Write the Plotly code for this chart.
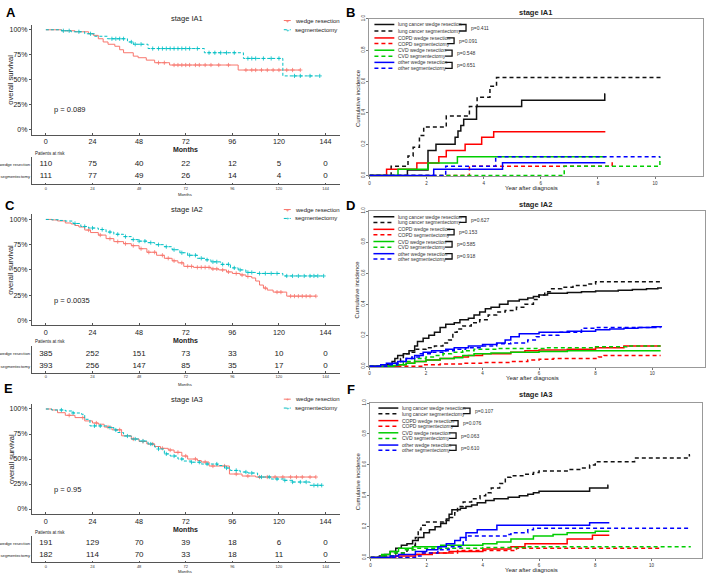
import numpy as np
import plotly.graph_objects as go

W, H = 708, 577

# ---------------- data ----------------
months = [0, 24, 48, 72, 96, 120, 144]
years = [0, 2, 4, 6, 8, 10]
stages = ["stage IA1", "stage IA2", "stage IA3"]
km_pvals = ["p = 0.089", "p = 0.0035", "p = 0.95"]

# patients at risk
risk_a_wedge = [110, 75, 40, 22, 12, 5, 0]
risk_a_seg = [111, 77, 49, 26, 14, 4, 0]
risk_c_wedge = [385, 252, 151, 73, 33, 10, 0]
risk_c_seg = [393, 256, 147, 85, 35, 17, 0]
risk_e_wedge = [191, 129, 70, 39, 18, 6, 0]
risk_e_seg = [182, 114, 70, 33, 18, 11, 0]

# Kaplan-Meier curves (months, survival)
a_wedge_t = [8, 15, 22, 24.5, 27, 29.5, 32, 35.5, 38, 40, 45, 47.5, 51.7, 56, 63.7, 99]
a_wedge_s = [0.99, 0.98, 0.96, 0.944, 0.91, 0.878, 0.855, 0.835, 0.80, 0.77, 0.736, 0.72, 0.696, 0.67, 0.647, 0.597]
a_wedge_end = 131
a_wedge_cens = [58, 61, 66, 68, 70, 72, 74, 77, 79, 82, 85, 89, 94, 103, 106, 108, 111, 114, 117, 120, 124, 127, 131]
a_seg_t = [8, 13, 20, 25, 31.7, 42, 45, 52.6, 81.6, 101.7, 122]
a_seg_s = [0.99, 0.98, 0.96, 0.935, 0.91, 0.878, 0.855, 0.812, 0.77, 0.713, 0.538]
a_seg_end = 141
a_seg_cens = [9, 12, 17, 23, 34, 36, 38, 40, 44, 46, 49, 55, 58, 60, 62, 64, 66, 68, 70, 72, 74, 78, 84,
              87, 90, 93, 97, 104, 106, 108, 112, 116, 120, 128, 131, 136, 141]

c_wedge_t = [3, 6, 10, 13, 15, 17, 20, 23, 27, 31, 35, 40, 44, 48, 52, 57, 61, 65, 68, 71, 76, 85, 89, 93,
             96, 100, 103, 106, 108, 110, 112, 114, 117, 124]
c_wedge_s = [0.995, 0.985, 0.965, 0.955, 0.94, 0.925, 0.895, 0.87, 0.845, 0.81, 0.78, 0.76, 0.74, 0.71, 0.675,
             0.645, 0.615, 0.59, 0.57, 0.535, 0.525, 0.51, 0.50, 0.48, 0.465, 0.45, 0.435, 0.42, 0.39, 0.35,
             0.32, 0.30, 0.28, 0.24]
c_wedge_end = 139
c_wedge_cens = [22, 28, 33, 37, 41, 45, 49, 53, 56, 60, 63, 66, 70, 73, 75, 78, 80, 82, 84, 86, 88, 91, 94,
                98, 101, 104, 113, 119, 121, 126, 128, 130, 132, 134, 136, 139]
c_seg_t = [3, 7, 10, 14, 18, 22, 27, 31, 35, 40, 44, 48, 52, 56, 61, 65, 69, 73, 78, 82, 85, 90, 95, 99,
           103, 108, 122]
c_seg_s = [0.997, 0.99, 0.984, 0.96, 0.93, 0.915, 0.90, 0.875, 0.853, 0.83, 0.80, 0.785, 0.77, 0.75, 0.73,
           0.70, 0.67, 0.645, 0.615, 0.60, 0.58, 0.555, 0.52, 0.50, 0.475, 0.465, 0.44]
c_seg_end = 143
c_seg_cens = [15, 20, 24, 29, 33, 37, 41, 45, 48, 51, 54, 58, 62, 66, 70, 74, 77, 80, 83, 86, 88, 91, 94,
              97, 100, 104, 106, 110, 113, 116, 119, 124, 127, 130, 133, 136, 138, 140, 143]

e_wedge_t = [3, 6, 10, 15, 20, 24, 27, 30, 34, 39, 44, 48, 52, 56, 59, 63, 66, 70, 73, 78, 80, 84, 94.5,
             101, 108]
e_wedge_s = [0.99, 0.963, 0.937, 0.914, 0.881, 0.86, 0.848, 0.82, 0.792, 0.732, 0.70, 0.675, 0.65, 0.625,
             0.607, 0.59, 0.567, 0.53, 0.50, 0.485, 0.47, 0.43, 0.35, 0.33, 0.32]
e_wedge_end = 139
e_wedge_cens = [12, 19, 26, 32, 38, 45, 50, 55, 60, 64, 68, 72, 77, 82, 86, 92, 98, 104, 110, 114, 118,
                122, 126, 129, 132, 136, 139]
e_seg_t = [3, 10, 14, 18.4, 20, 22.7, 32, 35, 37, 40, 44, 48, 52.6, 56, 58, 61, 64, 68, 71, 74.7, 80, 88.4,
           92, 95, 100, 104, 109, 116, 122.5, 127, 136]
e_seg_s = [0.99, 0.98, 0.96, 0.947, 0.897, 0.831, 0.815, 0.79, 0.765, 0.73, 0.70, 0.68, 0.65, 0.62, 0.60,
           0.551, 0.53, 0.50, 0.48, 0.468, 0.45, 0.435, 0.41, 0.386, 0.37, 0.36, 0.32, 0.30, 0.287, 0.27,
           0.237]
e_seg_end = 142
e_seg_cens = [8, 14, 25, 28, 33, 36, 42, 46, 50, 54, 58, 62, 66, 70, 75, 79, 83, 88, 93, 98, 103, 106, 111,
              115, 119, 123, 127, 131, 134, 138, 140, 142]

# cumulative incidence curves (years, incidence)
cif_labels = ["lung cancer wedge resection", "lung cancer segmentectomy",
              "COPD wedge resection", "COPD segmentectomy",
              "CVD wedge resection", "CVD segmentectomy",
              "other wedge resection", "other segmentectomy"]
b_pvals = ["p=0.411", "p=0.091", "p=0.548", "p=0.651"]
d_pvals = ["p=0.627", "p=0.153", "p=0.585", "p=0.918"]
f_pvals = ["p=0.107", "p=0.076", "p=0.063", "p=0.610"]

b_lung_w_t = [1.33, 2.05, 2.33, 3.0, 3.1, 3.2, 3.3, 3.75, 5.33, 8.24]
b_lung_w_v = [0.036, 0.16, 0.2, 0.245, 0.285, 0.32, 0.36, 0.44, 0.48, 0.52]
b_lung_s_t = [0.76, 1.35, 1.53, 1.75, 1.9, 2.69, 3.5, 3.77, 4.22, 4.45]
b_lung_s_v = [0.06, 0.125, 0.18, 0.255, 0.31, 0.38, 0.44, 0.5, 0.57, 0.625]
b_copd_w_t = [0.6, 1.66, 2.43, 2.69, 3.35, 3.93, 4.35]
b_copd_w_v = [0.04, 0.08, 0.12, 0.16, 0.2, 0.245, 0.28]
b_copd_s_t = [3.5, 8.5]
b_copd_s_v = [0.06, 0.1]
b_cvd_w_t = [1.0, 2.05, 3.08]
b_cvd_w_v = [0.04, 0.08, 0.12]
b_cvd_s_t = [6.82, 10.17]
b_cvd_s_v = [0.06, 0.12]
b_oth_w_t = [2.25, 4.66]
b_oth_w_v = [0.04, 0.082]
b_oth_s_t = [2.67, 4.42]
b_oth_s_v = [0.06, 0.12]
b_ends = [8.26, 10.2, 8.26, 8.51, 8.26, 10.18, 8.26, 10.18]

d_lung_w_t = [0.6, 0.8, 0.9, 1.0, 1.2, 1.4, 1.6, 1.7, 1.9, 2.1, 2.3, 2.5, 2.7, 3.0, 3.2, 3.5, 3.7, 3.9, 4.1,
              4.3, 4.6, 4.9, 5.3, 5.6, 5.8, 6.0, 6.3, 7.0, 7.5, 8.0, 8.8, 9.3, 9.8, 10.2]
d_lung_w_v = [0.01, 0.03, 0.05, 0.07, 0.08, 0.10, 0.13, 0.16, 0.18, 0.20, 0.22, 0.25, 0.27, 0.28, 0.30, 0.31,
              0.33, 0.35, 0.37, 0.38, 0.40, 0.42, 0.43, 0.44, 0.45, 0.46, 0.47, 0.475, 0.48, 0.485, 0.49,
              0.495, 0.50, 0.505]
d_lung_s_t = [0.9, 1.1, 1.2, 1.4, 1.6, 2.0, 2.3, 2.6, 2.8, 2.95, 3.1, 3.3, 3.6, 3.9, 4.2, 4.5, 4.8, 5.2, 5.5,
              5.8, 6.0, 6.2, 6.4, 6.8, 7.2, 7.7, 8.0]
d_lung_s_v = [0.02, 0.05, 0.08, 0.09, 0.11, 0.12, 0.13, 0.15, 0.17, 0.22, 0.24, 0.26, 0.28, 0.30, 0.33, 0.35,
              0.36, 0.38, 0.40, 0.43, 0.46, 0.48, 0.50, 0.51, 0.52, 0.53, 0.545]
d_copd_w_t = [1.0, 1.3, 1.6, 2.0, 2.5, 3.0, 3.5, 4.0, 5.0, 5.5, 6.0, 7.0, 8.0, 9.0]
d_copd_w_v = [0.01, 0.02, 0.03, 0.04, 0.05, 0.06, 0.07, 0.08, 0.09, 0.10, 0.105, 0.11, 0.12, 0.13]
d_copd_s_t = [1.9, 2.5, 3.3, 4.0, 5.0, 5.6, 6.0, 6.5, 8.1, 8.3]
d_copd_s_v = [0.01, 0.015, 0.02, 0.025, 0.03, 0.04, 0.045, 0.05, 0.06, 0.07]
d_cvd_w_t = [0.7, 1.0, 1.3, 1.6, 2.0, 2.5, 3.0, 3.3, 3.7, 4.3, 5.0, 6.0, 7.0]
d_cvd_w_v = [0.005, 0.01, 0.02, 0.03, 0.04, 0.05, 0.055, 0.07, 0.08, 0.085, 0.09, 0.095, 0.10]
d_cvd_s_t = [0.9, 1.2, 1.6, 2.0, 2.3, 2.6, 2.9, 3.3, 3.7, 4.5, 6.2, 8.0, 9.1]
d_cvd_s_v = [0.01, 0.03, 0.05, 0.06, 0.07, 0.08, 0.09, 0.10, 0.11, 0.115, 0.12, 0.125, 0.13]
d_oth_w_t = [0.4, 0.6, 1.0, 1.3, 1.6, 1.9, 2.2, 2.7, 3.0, 3.5, 4.0, 4.5, 4.8, 5.0, 5.3, 6.0, 7.0, 8.0, 8.5,
             9.0, 9.5, 10.0]
d_oth_w_v = [0.01, 0.02, 0.03, 0.05, 0.07, 0.09, 0.10, 0.11, 0.12, 0.13, 0.14, 0.15, 0.17, 0.19, 0.21, 0.22,
             0.225, 0.235, 0.24, 0.245, 0.25, 0.255]
d_oth_s_t = [0.7, 1.0, 1.3, 1.5, 1.8, 2.2, 2.6, 3.0, 3.4, 4.0, 4.5, 5.0, 5.6, 5.9, 6.0, 6.7, 7.5, 8.0]
d_oth_s_v = [0.01, 0.03, 0.05, 0.06, 0.08, 0.09, 0.10, 0.11, 0.12, 0.13, 0.145, 0.15, 0.17, 0.19, 0.20, 0.22,
             0.245, 0.25]
d_ends = [10.35, 10.3, 10.3, 10.3, 10.3, 10.3, 10.35, 10.3]

f_lung_w_t = [0.32, 0.5, 0.7, 0.9, 1.1, 1.3, 1.5, 1.7, 1.9, 2.1, 2.3, 2.5, 2.7, 2.8, 2.9, 3.2, 3.4, 3.6, 3.8,
              4.1, 4.4, 4.9, 5.3, 5.6, 5.8, 6.0, 7.8, 8.45]
f_lung_w_v = [0.01, 0.02, 0.04, 0.06, 0.08, 0.09, 0.11, 0.13, 0.16, 0.18, 0.20, 0.22, 0.25, 0.28, 0.31, 0.32,
              0.33, 0.34, 0.355, 0.37, 0.38, 0.39, 0.40, 0.41, 0.42, 0.43, 0.45, 0.468]
f_lung_s_t = [0.5, 0.9, 1.3, 1.5, 1.6, 1.7, 1.8, 2.0, 2.6, 2.8, 3.0, 3.1, 3.3, 3.6, 3.9, 4.1, 4.3, 4.6, 4.8,
              5.0, 5.5, 5.8, 6.0, 7.0, 7.5, 7.8, 8.0, 9.4, 11.35]
f_lung_s_v = [0.01, 0.03, 0.05, 0.08, 0.13, 0.18, 0.21, 0.23, 0.24, 0.26, 0.29, 0.33, 0.36, 0.38, 0.40, 0.42,
              0.45, 0.48, 0.52, 0.53, 0.54, 0.55, 0.56, 0.57, 0.58, 0.60, 0.62, 0.645, 0.665]
f_copd_w_t = [0.9, 1.6, 2.2, 2.8, 4.0, 5.0, 5.5, 7.0, 7.9]
f_copd_w_v = [0.01, 0.02, 0.03, 0.04, 0.055, 0.07, 0.09, 0.12, 0.145]
f_copd_s_t = [1.6, 1.8, 3.1, 5.2]
f_copd_s_v = [0.02, 0.03, 0.045, 0.06]
f_cvd_w_t = [0.4, 0.7, 1.0, 1.5, 2.5, 4.0, 4.5, 5.0, 5.8, 6.5, 7.0, 8.0]
f_cvd_w_v = [0.02, 0.04, 0.06, 0.07, 0.08, 0.09, 0.10, 0.12, 0.14, 0.15, 0.16, 0.17]
f_cvd_s_t = [0.4, 0.8, 1.2, 1.6, 4.0, 5.5]
f_cvd_s_v = [0.01, 0.03, 0.05, 0.06, 0.065, 0.07]
f_oth_w_t = [0.7, 1.0, 1.6, 2.0, 2.4, 2.7, 3.0, 3.2, 3.4, 3.8, 4.5, 7.8]
f_oth_w_v = [0.01, 0.02, 0.04, 0.05, 0.07, 0.09, 0.11, 0.13, 0.16, 0.18, 0.21, 0.225]
f_oth_s_t = [1.6, 1.8, 2.4, 2.8, 3.3, 3.4, 4.9, 5.0, 5.6, 5.8]
f_oth_s_v = [0.01, 0.03, 0.05, 0.07, 0.10, 0.14, 0.15, 0.16, 0.18, 0.19]
f_ends = [8.47, 11.37, 8.5, 10.35, 8.5, 11.4, 8.5, 11.4]

# ---------------- helpers ----------------
RED, CYAN = "#F8766D", "#00BFC4"
CIF_COLORS = ["#111111", "#111111", "#FF0000", "#FF0000", "#00CD00", "#00CD00", "#0000FF", "#0000FF"]
FONT = "Liberation Sans, Arial, sans-serif"


def xdom(x0, x1):
    return [x0 / W, x1 / W]


def ydom(y0, y1):
    return [1 - y1 / H, 1 - y0 / H]


def step(t, v, end, start):
    return [0] + list(t) + [end], [start] + list(v) + [v[-1]]


def value_at(t, v, c, start):
    tt = np.array([0] + list(t))
    vv = np.array([start] + list(v))
    idx = np.searchsorted(tt, np.array(c), side="right") - 1
    return vv[idx]


def note(x, y, text, size, xa="center", ya="middle", angle=0, bold=False, color="#222"):
    return dict(x=x / W, y=1 - y / H, xref="paper", yref="paper", text=f"<b>{text}</b>" if bold else text,
                showarrow=False, xanchor=xa, yanchor=ya, textangle=angle,
                font=dict(size=size, color=color, family=FONT))


def ax(i):
    return ("x" if i == 1 else f"x{i}"), ("y" if i == 1 else f"y{i}")


def axkey(i):
    return ("xaxis" if i == 1 else f"xaxis{i}"), ("yaxis" if i == 1 else f"yaxis{i}")


fig = go.Figure()
layout = {}
annotations = []
shapes = []

km_rows = [
    dict(curves=[(a_wedge_t, a_wedge_s, a_wedge_end, a_wedge_cens), (a_seg_t, a_seg_s, a_seg_end, a_seg_cens)],
         risk=(risk_a_wedge, risk_a_seg), plot=(21, 132), table=(155, 182), trange=[-0.667, 1.583],
         title_y=15, xlab_y=147.5, par_y=151, tmon_y=192, leg_y=(16.7, 26), letter=(8, 9)),
    dict(curves=[(c_wedge_t, c_wedge_s, c_wedge_end, c_wedge_cens), (c_seg_t, c_seg_s, c_seg_end, c_seg_cens)],
         risk=(risk_c_wedge, risk_c_seg), plot=(212.6, 324.8), table=(346, 372.5), trange=[-0.51, 1.575],
         title_y=208, xlab_y=340, par_y=341.5, tmon_y=384, leg_y=(207.7, 216.7), letter=(7, 204)),
    dict(curves=[(e_wedge_t, e_wedge_s, e_wedge_end, e_wedge_cens), (e_seg_t, e_seg_s, e_seg_end, e_seg_cens)],
         risk=(risk_e_wedge, risk_e_seg), plot=(404.2, 515.4), table=(538, 564), trange=[-0.545, 1.57],
         title_y=400, xlab_y=531, par_y=534.5, tmon_y=573.5, leg_y=(399.3, 408.3), letter=(6, 389)),
]

cif_rows = [
    dict(curves=list(zip([b_lung_w_t, b_lung_s_t, b_copd_w_t, b_copd_s_t, b_cvd_w_t, b_cvd_s_t, b_oth_w_t, b_oth_s_t],
                         [b_lung_w_v, b_lung_s_v, b_copd_w_v, b_copd_s_v, b_cvd_w_v, b_cvd_s_v, b_oth_w_v, b_oth_s_v],
                         b_ends)),
         pvals=b_pvals, xd=(368, 703), xr=11.68, yd=(15, 174), title_y=9, xlab_y=186,
         rows=[20.7, 27.3, 34.3, 40, 46.7, 52.7, 59, 65], key=(373, 393), letter=(349, 9)),
    dict(curves=list(zip([d_lung_w_t, d_lung_s_t, d_copd_w_t, d_copd_s_t, d_cvd_w_t, d_cvd_s_t, d_oth_w_t, d_oth_s_t],
                         [d_lung_w_v, d_lung_s_v, d_copd_w_v, d_copd_s_v, d_cvd_w_v, d_cvd_s_v, d_oth_w_v, d_oth_s_v],
                         d_ends)),
         pvals=d_pvals, xd=(368, 705), xr=11.87, yd=(209.3, 366.7), title_y=203, xlab_y=378,
         rows=[215, 220.7, 227.7, 233.3, 240, 245.7, 252.3, 257.7], key=(372, 393), letter=(349, 204)),
    dict(curves=list(zip([f_lung_w_t, f_lung_s_t, f_copd_w_t, f_copd_s_t, f_cvd_w_t, f_cvd_s_t, f_oth_w_t, f_oth_s_t],
                         [f_lung_w_v, f_lung_s_v, f_copd_w_v, f_copd_s_v, f_cvd_w_v, f_cvd_s_v, f_oth_w_v, f_oth_s_v],
                         f_ends)),
         pvals=f_pvals, xd=(369, 702), xr=11.8, yd=(403.3, 560), title_y=395, xlab_y=572,
         rows=[408.3, 414, 421, 426.7, 433.3, 439, 445.7, 451], key=(377, 397), letter=(349, 390)),
]

KM_X = (29, 338)
BRACKET_X = [465, 453, 451, 451]

for r in range(3):
    km = km_rows[r]
    i_km, i_tab, i_cif = 3 * r + 1, 3 * r + 2, 3 * r + 3

    # --- Kaplan-Meier panel ---
    xa, ya = ax(i_km)
    for (t, s, end, cens), col, dash in zip(km["curves"], [RED, CYAN], ["solid", "3px,2px"]):
        x, y = step(t, s, end, 1.0)
        fig.add_trace(go.Scatter(x=x, y=y, mode="lines", line=dict(color=col, width=1, shape="hv", dash=dash),
                                 xaxis=xa, yaxis=ya, hoverinfo="skip"))
        fig.add_trace(go.Scatter(x=cens, y=value_at(t, s, cens, 1.0), mode="markers",
                                 marker=dict(symbol="cross-thin", size=3, line=dict(color=col, width=0.8)),
                                 xaxis=xa, yaxis=ya, hoverinfo="skip"))
    kx, ky = axkey(i_km)
    layout[kx] = dict(domain=xdom(*KM_X), range=[-7.2, 151.2], anchor=ya, tickvals=months,
                      ticks="inside", ticklen=2, tickcolor="#555", showline=True, linecolor="#555",
                      showgrid=False, zeroline=False, tickfont=dict(size=7.2, color="#222"))
    layout[ky] = dict(domain=ydom(*km["plot"]), range=[-0.05, 1.05], anchor=xa,
                      tickvals=[0, 0.25, 0.5, 0.75, 1], ticktext=["0%", "25%", "50%", "75%", "100%"],
                      ticks="outside", ticklen=2, tickcolor="#555", showline=True, linecolor="#555",
                      showgrid=False, zeroline=False, tickfont=dict(size=7, color="#222"))
    annotations.append(dict(x=3, y=0.2, xref=xa, yref=ya, text=km_pvals[r], showarrow=False,
                            xanchor="left", yanchor="middle", font=dict(size=7.5, color="#222", family=FONT)))
    annotations.append(note(185, km["title_y"], stages[r], 7.5))
    annotations.append(note(183, km["xlab_y"], "Months", 7, bold=True))
    annotations.append(note(8, sum(km["plot"]) / 2, "overall survival", 7.5, angle=-90))
    annotations.append(note(*km["letter"], ["A", "C", "E"][r], 13, bold=True, color="#000"))
    # legend
    for ly, col, lab, dash in zip(km["leg_y"], [RED, CYAN], ["wedge resection", "segmentectomy"],
                                  ["solid", "dot"]):
        shapes.append(dict(type="line", xref="paper", yref="paper", x0=282 / W, x1=289 / W,
                           y0=1 - ly / H, y1=1 - ly / H, line=dict(color=col, width=1, dash=dash)))
        annotations.append(note(285.5, ly, "+", 5.5, color=col))
        annotations.append(note(291, ly, lab, 6, xa="left"))

    # --- risk table ---
    xa, ya = ax(i_tab)
    for yrow, counts in zip([1, 0], km["risk"]):
        fig.add_trace(go.Scatter(x=months, y=[yrow] * len(months), mode="text", text=[str(n) for n in counts],
                                 textfont=dict(size=8, color="#222", family=FONT),
                                 xaxis=xa, yaxis=ya, hoverinfo="skip"))
    kx, ky = axkey(i_tab)
    layout[kx] = dict(domain=xdom(*KM_X), range=[-7.2, 151.2], anchor=ya, tickvals=months,
                      ticks="inside", ticklen=1.5, tickcolor="#555", showline=True, linecolor="#555",
                      showgrid=False, zeroline=False, tickfont=dict(size=4, color="#333"))
    layout[ky] = dict(domain=ydom(*km["table"]), range=km["trange"], anchor=xa, tickvals=[1, 0],
                      ticktext=["wedge resection", "segmentectomy"], ticks="", showline=True,
                      linecolor="#555", showgrid=False, zeroline=False, tickfont=dict(size=4.2, color="#222"))
    annotations.append(note(30, km["par_y"], "Patients at risk", 4.5, xa="left"))
    annotations.append(note(183, km["tmon_y"], "Months", 4.2))

    # --- cumulative incidence panel ---
    cf = cif_rows[r]
    xa, ya = ax(i_cif)
    for k, (t, v, end) in enumerate(cf["curves"]):
        x, y = step(t, v, end, 0.0)
        fig.add_trace(go.Scatter(x=x, y=y, mode="lines",
                                 line=dict(color=CIF_COLORS[k], width=1.5, shape="hv",
                                           dash="solid" if k % 2 == 0 else "4px,3px"),
                                 xaxis=xa, yaxis=ya, hoverinfo="skip"))
    kx, ky = axkey(i_cif)
    layout[kx] = dict(domain=xdom(*cf["xd"]), range=[0, cf["xr"]], anchor=ya, tickvals=years,
                      ticks="outside", ticklen=2, tickcolor="#777", showline=True, mirror=True,
                      linecolor="#999", showgrid=False, zeroline=False, tickfont=dict(size=4.5, color="#333"))
    layout[ky] = dict(domain=ydom(*cf["yd"]), range=[-0.004, 1], anchor=xa,
                      tickvals=[0, 0.2, 0.4, 0.6, 0.8, 1.0], ticktext=["0.0", "0.2", "0.4", "0.6", "0.8", "1.0"],
                      tickangle=-90, ticks="outside", ticklen=2, tickcolor="#777", showline=True, mirror=True,
                      linecolor="#999", showgrid=False, zeroline=False, tickfont=dict(size=4.5, color="#333"))
    cx = (cf["xd"][0] + cf["xd"][1]) / 2
    annotations.append(note(535, cf["title_y"], stages[r], 7.5, bold=True))
    annotations.append(note(cx - 5, cf["xlab_y"], "Year after diagnosis", 6))
    annotations.append(note(356, sum(cf["yd"]) / 2, "Cumulative incidence", 6, angle=-90))
    annotations.append(note(*cf["letter"], ["B", "D", "F"][r], 13, bold=True, color="#000"))
    # legend with brackets
    k0, k1 = cf["key"]
    for k, (ly, lab) in enumerate(zip(cf["rows"], cif_labels)):
        shapes.append(dict(type="line", xref="paper", yref="paper", x0=k0 / W, x1=k1 / W,
                           y0=1 - ly / H, y1=1 - ly / H,
                           line=dict(color=CIF_COLORS[k], width=1.5, dash="solid" if k % 2 == 0 else "4px,3px")))
        annotations.append(note(k1 + 2, ly, lab, 5, xa="left", color="#333"))
    for p in range(4):
        yt, yb = cf["rows"][2 * p], cf["rows"][2 * p + 1]
        xb = BRACKET_X[p] + (k1 - 393)
        path = (f"M {(xb - 7) / W},{1 - yt / H} L {xb / W},{1 - yt / H} "
                f"L {xb / W},{1 - yb / H} L {(xb - 7) / W},{1 - yb / H}")
        shapes.append(dict(type="path", xref="paper", yref="paper", path=path,
                           line=dict(color="#111", width=1.3)))
        annotations.append(note(xb + 2.5, (yt + yb) / 2, cf["pvals"][p], 5, xa="left", color="#333"))

fig.update_layout(
    width=W, height=H, margin=dict(l=0, r=0, t=0, b=0), autosize=False,
    paper_bgcolor="white", plot_bgcolor="white", showlegend=False,
    font=dict(family=FONT, color="#222"),
    annotations=annotations, shapes=shapes, **layout,
)

fig.write_html("out.html", config={"displayModeBar": False},
               post_script="document.body.style.margin='0';document.body.style.overflow='hidden';")
